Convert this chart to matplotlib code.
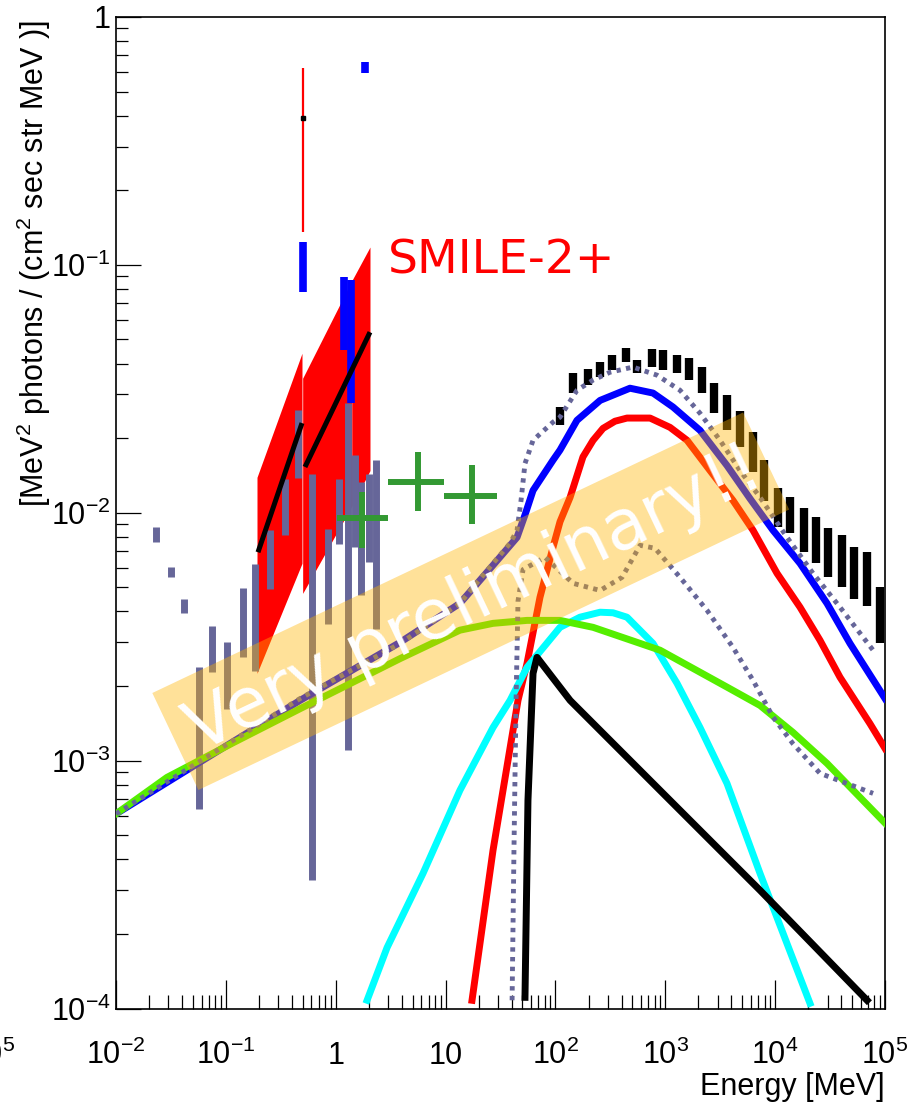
import matplotlib
matplotlib.use("Agg")
import matplotlib.pyplot as plt
import numpy as np
from matplotlib.patches import Rectangle
from matplotlib.ticker import LogLocator, NullFormatter
from matplotlib.transforms import Affine2D

plt.rcParams["font.family"] = ["Liberation Sans", "DejaVu Sans"]
plt.rcParams["mathtext.fontset"] = "custom"
plt.rcParams["mathtext.rm"] = "Liberation Sans"
plt.rcParams["mathtext.it"] = "Liberation Sans:italic"
plt.rcParams["mathtext.bf"] = "Liberation Sans:bold"

# ---- measured data (grey bars, low energy) ----
lowe_energy = [0.0231, 0.0315, 0.0413, 0.0573, 0.0753, 0.1016, 0.142, 0.185, 0.252, 0.345,
               0.451, 0.604, 0.845, 1.07, 1.28, 1.50, 1.69, 2.01, 2.33]
lowe_flux_lo = [0.00762, 0.00551, 0.00395, 0.00064, 0.00228, 0.00162, 0.00262, 0.00231, 0.00494, 0.00811,
                0.01383, 0.000329, 0.00357, 0.00751, 0.0011, 0.00728, 0.00465, 0.00634, 0.00341]
lowe_flux_hi = [0.00877, 0.00604, 0.00448, 0.00239, 0.00348, 0.00301, 0.00499, 0.00624, 0.0085, 0.01374,
                0.0259, 0.0143, 0.00863, 0.0137, 0.0277, 0.0171, 0.0133, 0.0144, 0.0163]

# blue bars
blue_energy = [0.503, 1.19, 1.38, 1.85]
blue_flux_lo = [0.0776, 0.0453, 0.0277, 0.594]
blue_flux_hi = [0.1236, 0.0893, 0.0869, 0.658]

# single red error bar with black point
red_point_energy = 0.503
red_point_flux = 0.391
red_point_lo = 0.1356
red_point_hi = 0.622

# SMILE-2+ band, three power-law segments
band_e_start = [0.192, 0.50, 1.41]
band_e_end = [0.493, 1.41, 2.05]
band_lo_start = [0.00225, 0.00473, 0.0107]
band_lo_end = [0.00625, 0.0107, 0.0148]
band_hi_start = [0.0139, 0.0349, 0.0868]
band_hi_end = [0.0440, 0.0868, 0.118]

# SMILE-2+ best fit, two segments
fit_e_start = [0.196, 0.525]
fit_e_end = [0.493, 2.05]
fit_f_start = [0.00693, 0.0153]
fit_f_end = [0.0230, 0.0535]

# green crosses
cross_energy = [1.73, 5.57, 17.5]
cross_energy_lo = [1.03, 2.99, 9.68]
cross_energy_hi = [2.99, 9.68, 29.4]
cross_flux = [0.0095, 0.0133, 0.01166]
cross_flux_lo = [0.0072, 0.01014, 0.00899]
cross_flux_hi = [0.0121, 0.01758, 0.01556]

# high energy data (black bars)
he_energy = [110, 145, 198, 255, 327, 439, 552, 757, 953, 1279, 1644, 2158, 2775, 3645, 4786,
             6281, 7907, 10620, 13650, 18280, 23550, 30270, 40550, 52240, 68550, 89950]
he_flux_lo = [0.02255, 0.0304, 0.0327, 0.0352, 0.0376, 0.0405, 0.0366, 0.0387, 0.0376, 0.0366, 0.0343,
              0.0304, 0.0252, 0.0215, 0.0184, 0.0146, 0.0112, 0.00874, 0.00826, 0.00693, 0.00625,
              0.00549, 0.00500, 0.00448, 0.00419, 0.00297]
he_flux_hi = [0.0267, 0.0366, 0.0380, 0.0405, 0.0432, 0.0462, 0.0413, 0.0457, 0.0453, 0.0432, 0.0420,
              0.0387, 0.0333, 0.0298, 0.0257, 0.0211, 0.0163, 0.01256, 0.01155, 0.01042, 0.00959,
              0.00865, 0.00811, 0.00726, 0.00693, 0.00500]

# ---- model curves ----
blue_curve_energy = [0.01, 0.473, 3.85, 13.5, 27.0, 44.7, 52.8, 62.5, 95.0, 110, 157, 255, 477, 773,
                     1175, 2070, 3645, 5904, 9550, 16830, 29630, 47980, 100000]
blue_curve_flux = [6.1e-4, 1.75e-3, 3.0e-3, 4.31e-3, 6.14e-3, 7.96e-3, 9.8e-3, 1.23e-2, 1.63e-2, 1.79e-2,
                   2.36e-2, 2.84e-2, 3.18e-2, 3.04e-2, 2.67e-2, 2.15e-2, 1.55e-2, 1.14e-2, 8.5e-3, 6.25e-3,
                   4.31e-3, 2.97e-3, 1.78e-3]

red_curve_energy = [17.4, 27.0, 45.6, 55.1, 72.3, 95.0, 110, 136, 178, 220, 271, 348, 448, 726, 1104,
                    1578, 2553, 4138, 6281, 10390, 16830, 25570, 38900, 72950, 100000]
red_curve_flux = [1.08e-4, 4.34e-4, 1.75e-3, 2.47e-3, 4.56e-3, 7.26e-3, 9.2e-3, 1.155e-2, 1.68e-2, 1.96e-2,
                  2.19e-2, 2.34e-2, 2.41e-2, 2.41e-2, 2.21e-2, 1.96e-2, 1.48e-2, 1.12e-2, 8.5e-3, 5.7e-3,
                  4.16e-3, 3.06e-3, 2.17e-3, 1.41e-3, 1.12e-3]

cyan_curve_energy = [1.93, 2.93, 6.23, 13.5, 27.0, 38.6, 55.1, 110, 167, 255, 334, 448, 773, 1279, 2070,
                     3645, 7278, 20730]
cyan_curve_flux = [1.08e-4, 1.76e-4, 3.51e-4, 7.59e-4, 1.36e-3, 1.75e-3, 2.38e-3, 3.45e-3, 3.79e-3,
                   3.97e-3, 3.95e-3, 3.79e-3, 2.97e-3, 2.05e-3, 1.36e-3, 8.09e-4, 3.51e-4, 1.05e-4]

black_curve_energy = [52.8, 56.2, 62.5, 67.9, 136, 895, 7278, 68550]
black_curve_flux = [1.11e-4, 6.91e-4, 2.25e-3, 2.61e-3, 1.75e-3, 7.59e-4, 3.0e-4, 1.08e-4]

green_curve_energy = [0.01, 0.0291, 0.116, 0.473, 3.85, 13.5, 27.0, 55.1, 110, 220, 895, 3645, 7278,
                      14530, 29630, 100000]
green_curve_flux = [6.1e-4, 8.56e-4, 1.18e-3, 1.62e-3, 2.58e-3, 3.36e-3, 3.58e-3, 3.68e-3, 3.68e-3,
                    3.45e-3, 2.79e-3, 1.98e-3, 1.67e-3, 1.30e-3, 9.75e-4, 5.6e-4]

total_curve_energy = [0.01, 0.473, 3.85, 13.5, 27.0, 38.6, 44.7, 48.6, 52.8, 62.5, 95.0, 110, 157, 220, 314,
                      508, 840, 1361, 2070, 3148, 4786, 7278, 12820, 22080, 38900, 77800]
total_curve_flux = [6.1e-4, 1.78e-3, 2.97e-3, 4.31e-3, 6.25e-3, 7.53e-3, 8.5e-3, 1.12e-2, 1.58e-2, 1.96e-2,
                    2.32e-2, 2.43e-2, 3.12e-2, 3.43e-2, 3.69e-2, 3.87e-2, 3.59e-2, 3.12e-2, 2.52e-2, 1.96e-2,
                    1.48e-2, 1.155e-2, 7.96e-3, 5.70e-3, 4.16e-3, 2.79e-3]

inner_curve_energy = [40.3, 41.9, 43.8, 45.6, 50.7, 80.3, 145, 255, 404, 589, 806, 1361, 2398, 4138, 6281,
                      9550, 14530, 25570, 77800]
inner_curve_flux = [1.08e-4, 4.34e-4, 1.75e-3, 4.4e-3, 5.9e-3, 6.61e-3, 5.19e-3, 4.86e-3, 5.49e-3, 7.39e-3,
                    7.19e-3, 5.49e-3, 4.04e-3, 2.86e-3, 2.11e-3, 1.50e-3, 1.17e-3, 8.89e-4, 7.38e-4]

x_ticks = [1e-2, 1e-1, 1, 10, 1e2, 1e3, 1e4, 1e5]
x_tick_labels = ["$10^{-2}$", "$10^{-1}$", "1", "10", "$10^{2}$", "$10^{3}$", "$10^{4}$", "$10^{5}$"]
y_ticks = [1e-4, 1e-3, 1e-2, 1e-1, 1]
y_tick_labels = ["$10^{-4}$", "$10^{-3}$", "$10^{-2}$", "$10^{-1}$", "1"]

GREY = "#666699"

fig = plt.figure(figsize=(9.2, 11.02), dpi=100)
ax = fig.add_axes([0.1261, 0.0848, 0.8359, 0.8998])
ax.set_xscale("log")
ax.set_yscale("log")
ax.set_xlim(1e-2, 1e5)
ax.set_ylim(1e-4, 1)

# SMILE-2+ band and fit
for e0, e1, l0, l1, h0, h1 in zip(band_e_start, band_e_end, band_lo_start, band_lo_end,
                                  band_hi_start, band_hi_end):
    ax.fill_between([e0, e1], [l0, l1], [h0, h1], color="red", lw=0, zorder=1)

ax.vlines(lowe_energy, lowe_flux_lo, lowe_flux_hi, colors=GREY, linewidth=5, zorder=2)
ax.vlines(blue_energy, blue_flux_lo, blue_flux_hi, colors="blue", linewidth=5.5, zorder=3)
ax.vlines([red_point_energy], [red_point_lo], [red_point_hi], colors="red", linewidth=1.6, zorder=3)
ax.plot([red_point_energy], [red_point_flux], "s", color="black", ms=2.5, zorder=4)

for e0, e1, f0, f1 in zip(fit_e_start, fit_e_end, fit_f_start, fit_f_end):
    ax.plot([e0, e1], [f0, f1], color="black", lw=3.6, solid_capstyle="butt", zorder=4)

xerr = [np.subtract(cross_energy, cross_energy_lo), np.subtract(cross_energy_hi, cross_energy)]
yerr = [np.subtract(cross_flux, cross_flux_lo), np.subtract(cross_flux_hi, cross_flux)]
ax.errorbar(cross_energy, cross_flux, xerr=xerr, yerr=yerr, fmt="none", ecolor="#339933",
            elinewidth=4.3, capsize=0, zorder=5)

ax.vlines(he_energy, he_flux_lo, he_flux_hi, colors="black", linewidth=6, zorder=2)

# model curves
lw = 5
ax.plot(blue_curve_energy, blue_curve_flux, color="blue", lw=lw, zorder=6)
ax.plot(red_curve_energy, red_curve_flux, color="red", lw=lw, zorder=6)
ax.plot(cyan_curve_energy, cyan_curve_flux, color="cyan", lw=lw, zorder=6)
ax.plot(black_curve_energy, black_curve_flux, color="black", lw=lw, zorder=6)
ax.plot(green_curve_energy, green_curve_flux, color="#55ee00", lw=lw, zorder=7)
ax.plot(total_curve_energy, total_curve_flux, color=GREY, lw=3.5, dashes=(0.9, 1.1), zorder=8)
ax.plot(inner_curve_energy, inner_curve_flux, color=GREY, lw=3.5, dashes=(0.9, 1.1), zorder=8)

# axes styling (ROOT-like)
ax.set_xticks(x_ticks, x_tick_labels)
ax.set_yticks(y_ticks, y_tick_labels)
ax.xaxis.set_minor_locator(LogLocator(base=10, subs=np.arange(2, 10), numticks=30))
ax.yaxis.set_minor_locator(LogLocator(base=10, subs=np.arange(2, 10), numticks=30))
ax.xaxis.set_minor_formatter(NullFormatter())
ax.yaxis.set_minor_formatter(NullFormatter())
ax.tick_params(which="both", direction="in", top=False, right=False, width=0.9, labelsize=22)
ax.tick_params(axis="x", which="major", length=21, pad=40)
ax.tick_params(axis="x", which="minor", length=10)
ax.tick_params(axis="y", which="major", length=18, pad=4)
ax.tick_params(axis="y", which="minor", length=8.6)
plt.setp(ax.get_xticklabels(), va="baseline")
for sp in ax.spines.values():
    sp.set_linewidth(1.2)

W, H = 920, 1102
fig.text(34 / W, 1 - 20 / H, "[MeV$^{2}$ photons / (cm$^{2}$ sec str MeV )]", rotation=90,
         ha="center", va="top", fontsize=22)
fig.text(885 / W, 1 - 1095 / H, "Energy [MeV]", ha="right", va="baseline", fontsize=22)
# stray label of a neighbouring pad, cut at the left edge as in the original
fig.text(15 / W, 1 - 1064 / H, "$10^{5}$", ha="right", va="baseline", fontsize=22)
fig.text(388 / W, 1 - 273 / H, "SMILE-2+", color="red", ha="left", va="baseline",
         fontsize=34, family="DejaVu Sans")

# "Very preliminary!!" banner
band = Rectangle((-327, -53.7), 654, 107.4, facecolor=(1.0, 0.706, 0.0, 0.4), edgecolor="none",
                 transform=Affine2D().rotate_deg(25.4).translate(470.75, H - 601.25))
fig.add_artist(band)
fig.text(474 / W, 1 - 600 / H, "Very preliminary!!", rotation=25.4, rotation_mode="anchor",
         ha="center", va="center", color="white", fontsize=50, family="DejaVu Sans")

fig.savefig("out.png", dpi=100)
